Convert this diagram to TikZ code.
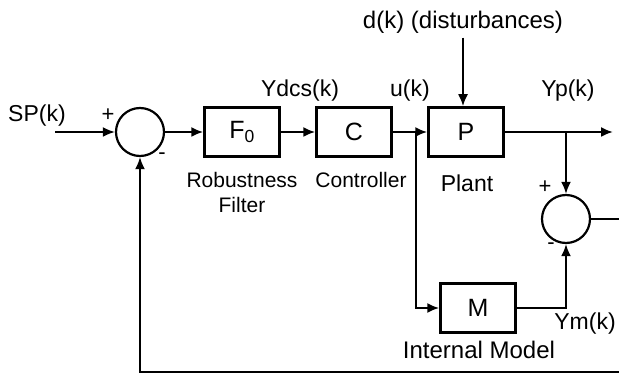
\documentclass[tikz,border=0pt]{standalone}
\usepackage{fontspec}
\setmainfont{Liberation Sans}
\usetikzlibrary{arrows.meta}
\begin{document}
\begin{tikzpicture}[x=1pt, y=-1pt, line width=2.1pt,
	every node/.style={font=\fontsize{23}{27}\selectfont},
	smalltxt/.style={font=\fontsize{21}{25}\selectfont},
	bigtxt/.style={font=\fontsize{24}{28}\selectfont},
	blk/.style={draw, line width=2.5pt, minimum width=75pt, minimum height=49pt, inner sep=0pt, font=\fontsize{25}{28}\selectfont},
	sumnode/.style={draw, circle, line width=2.2pt, minimum size=48pt, inner sep=0pt},
	signlbl/.style={font=\fontsize{22}{24}\selectfont, inner sep=0pt},
	sig/.style={-{Latex[length=12pt, width=10pt]}}]
	\useasboundingbox (0,0) rectangle (619,374);
	
	% 方框与求和点
	\node[sumnode] (sum1) at (140,132) {};
	\node[blk] (F) at (242,132) {F\textsubscript{0}};
	\node[blk] (C) at (354,132) {C};
	\node[blk] (P) at (466,132) {P};
	\node[sumnode] (sum2) at (566,219) {};
	\node[blk] (M) at (478,308) {M};
	
	% 文字
	\node (SP) at (37,116) {SP(k)};
	\node (Ydcs) at (300,91) {Ydcs(k)};
	\node (u) at (410,91) {u(k)};
	\node (Yp) at (568,91) {Yp(k)};
	\node (Ym) at (585,324) {Ym(k)};
	\node[bigtxt] (dist) at (463,22) {d(k) (disturbances)};
	\node[smalltxt, align=center] (filt) at (242,192) {Robustness\\Filter};
	\node[smalltxt] (ctrl) at (361,180) {Controller};
	\node (plant) at (467,183) {Plant};
	\node[bigtxt] (model) at (479,350) {Internal Model};
	
	% 符号
	\node[signlbl] (p1) at (108,115) {+};
	\node[signlbl] (m1) at (162,156) {-};
	\node[signlbl] (p2) at (545,187) {+};
	\node[signlbl] (m2) at (551,246) {-};
	
	% 辅助点
	\coordinate (spin) at (55,132);
	\coordinate (ubr) at (416,132);
	\coordinate (ybr) at (566,132);
	\coordinate (yout) at (613,132);
	\coordinate (edgeR) at (619,219);
	\coordinate (edgeB) at (619,372);
	
	% 主通道
	\draw[sig] (spin) -- (sum1);
	\draw[sig] (sum1) -- (F);
	\draw[sig] (F) -- (C);
	\draw[sig] (C) -- (P);
	\draw[sig] (P) -- (yout);
	\draw[sig] (dist.south) -- (dist.south |- P.north);
	
	% 内模与反馈
	\draw[sig] (ubr) |- (M);
	\draw[sig] (ybr) -- (sum2);
	\draw[sig] (M) -| (sum2);
	\draw (sum2) -- (edgeR);
	\draw[sig] (edgeB) -| (sum1);
	
\end{tikzpicture}
\end{document}
